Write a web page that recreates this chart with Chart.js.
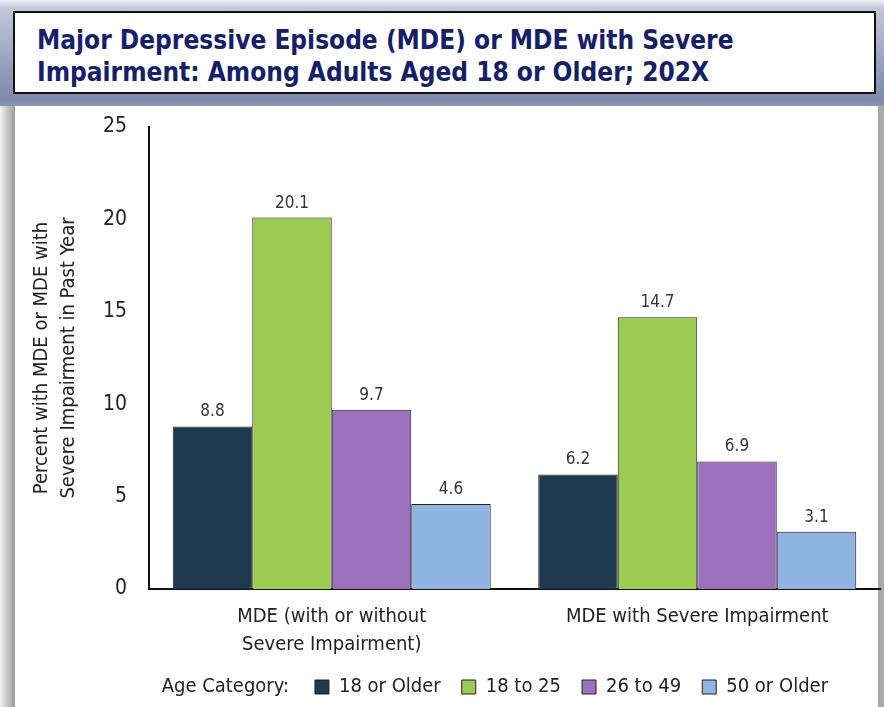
<!DOCTYPE html>
<html>
<head>
<meta charset="utf-8">
<script src="https://cdn.jsdelivr.net/npm/chart.js@4"></script>
<style>
  html, body { margin:0; padding:0; width:884px; height:707px; overflow:hidden; }
  body { background: linear-gradient(to right, #f2f2f2 0px, #9a9a9a 15px, #9a9a9a 884px); position:relative; font-family: "Liberation Sans Narrow","DejaVu Sans Condensed","Liberation Sans",sans-serif; }
  #topband { position:absolute; left:0; top:0; width:884px; height:106px;
    background: linear-gradient(to bottom, #eef0f5 0px, #c3c8da 8px, #a2aac5 50px, #7e88aa 100px, #8a93b2 106px); }
  #panel { position:absolute; left:15px; top:106px; width:863px; height:601px; background:#fff; }
  #rightstrip { position:absolute; left:878px; top:106px; width:6px; height:601px; background:#a8a8a8; }
  #titlebox { position:absolute; left:13px; top:11px; width:863px; height:83px; background:#fff; border:2px solid #111;
    box-sizing:border-box; }
  #title { position:absolute; left:22px; top:11px; margin:0; font-family:"Liberation Sans Narrow","DejaVu Sans Condensed",sans-serif;
    font-weight:bold; font-size:26px; line-height:32px; color:#15206b; }
  #wrap { position:absolute; left:0; top:0; width:884px; height:707px; }
</style>
</head>
<body>
<div id="topband"></div>
<div id="panel"></div>
<div id="rightstrip"></div>
<div id="titlebox"><div id="title">Major Depressive Episode (MDE) or MDE with Severe<br>Impairment: Among Adults Aged 18 or Older; 202X</div></div>
<div id="wrap"><canvas id="c" width="884" height="707"></canvas></div>
<script>
const categories = [["MDE (with or without", "Severe Impairment)"], "MDE with Severe Impairment"];
const seriesNames = ["18 or Older", "18 to 25", "26 to 49", "50 or Older"];
const older18 = [8.8, 6.2];
const age18to25 = [20.1, 14.7];
const age26to49 = [9.7, 6.9];
const older50 = [4.6, 3.1];
const yTicks = [0, 5, 10, 15, 20, 25];
const colors = ["#1f3a4f", "#9ccb52", "#9b70bd", "#8fb4e1"];
const yTitle = ["Percent with MDE or MDE with", "Severe Impairment in Past Year"];
const legendTitle = "Age Category:";

const FONT = "'Liberation Sans Narrow','DejaVu Sans Condensed','Liberation Sans',sans-serif";

const dataLabels = {
  id: 'dataLabels',
  afterDatasetsDraw(chart) {
    const ctx = chart.ctx;
    ctx.save();
    ctx.font = "17px " + FONT;
    ctx.fillStyle = "#333";
    ctx.textAlign = "center";
    ctx.textBaseline = "alphabetic";
    chart.data.datasets.forEach((ds, i) => {
      chart.getDatasetMeta(i).data.forEach((bar, j) => {
        ctx.fillText(ds.data[j].toFixed(1), bar.x, bar.y - 10);
      });
    });
    ctx.restore();
  }
};

const legendShift = {
  id: 'legendShift',
  afterLayout(chart) {
    const lg = chart.legend;
    if (!lg) return;
    lg.left += 124;
    lg.right += 124;
  }
};

const legendPrefix = {
  id: 'legendPrefix',
  afterDraw(chart) {
    const lg = chart.legend;
    if (!lg || !lg.legendHitBoxes || !lg.legendHitBoxes.length) return;
    const hb = lg.legendHitBoxes[0];
    const ctx = chart.ctx;
    ctx.save();
    ctx.font = "20px " + FONT;
    ctx.fillStyle = "#222";
    ctx.textAlign = "right";
    ctx.textBaseline = "middle";
    ctx.fillText(legendTitle, hb.left - 26, hb.top + hb.height / 2);
    ctx.restore();
  }
};

new Chart(document.getElementById('c'), {
  type: 'bar',
  data: {
    labels: categories,
    datasets: [
      { label: seriesNames[0], data: older18, backgroundColor: colors[0] },
      { label: seriesNames[1], data: age18to25, backgroundColor: colors[1] },
      { label: seriesNames[2], data: age26to49, backgroundColor: colors[2] },
      { label: seriesNames[3], data: older50, backgroundColor: colors[3] }
    ].map(d => Object.assign(d, { borderColor: "#222", borderWidth: 1, categoryPercentage: 0.87, barPercentage: 1.0 }))
  },
  options: {
    responsive: false,
    animation: false,
    layout: { padding: { left: 15, right: 4, top: 127, bottom: 0 } },
    plugins: {
      title: { display: false },
      tooltip: { enabled: false },
      legend: {
        position: 'bottom',
        labels: {
          font: { size: 20, family: FONT },
          color: "#222",
          boxWidth: 14, boxHeight: 14,
          padding: 21
        }
      }
    },
    scales: {
      x: {
        grid: { display: false, drawTicks: false },
        border: { display: true, color: "#111", width: 2 },
        ticks: { font: { size: 20, family: FONT, lineHeight: 1.4 }, color: "#222", padding: 14 },
        afterFit(s) { s.height = 67; }
      },
      y: {
        min: 0, max: 25,
        afterBuildTicks(s) { s.ticks = yTicks.map(v => ({ value: v })); },
        grid: { display: false, drawTicks: false },
        border: { display: true, color: "#111", width: 2 },
        ticks: { font: { size: 21, family: FONT }, color: "#222", padding: 22 },
        title: { display: true, text: yTitle, font: { size: 20, family: FONT, lineHeight: 1.35 }, color: "#222", padding: { top: 13, bottom: 0 } },
        afterFit(s) { s.width = 134; }
      }
    }
  },
  plugins: [dataLabels, legendShift, legendPrefix]
});
</script>
</body>
</html>
